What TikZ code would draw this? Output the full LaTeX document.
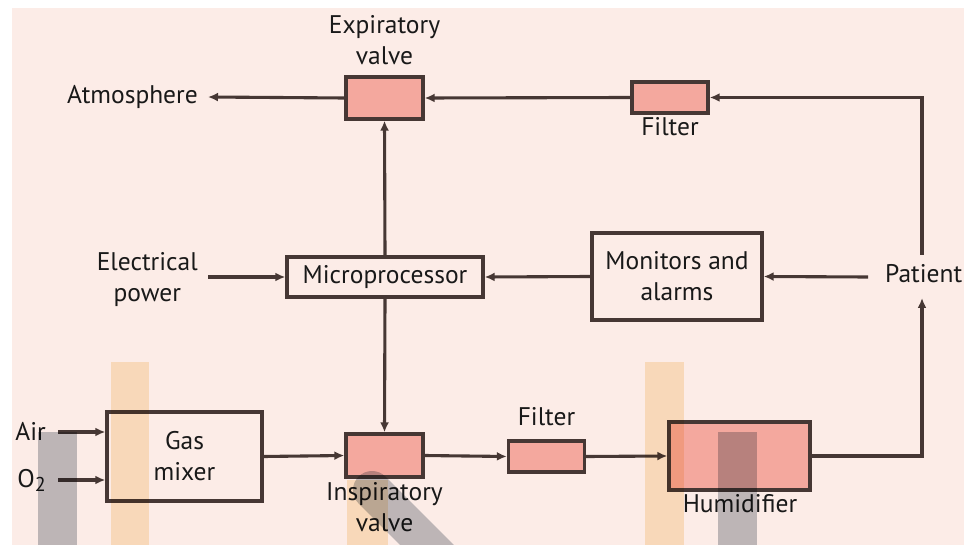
\documentclass[tikz,border=0pt]{standalone}
\usepackage{fontspec}
\setmainfont{PT Sans}
\usetikzlibrary{arrows.meta}
\definecolor{pagebg}{RGB}{252,236,231}
\definecolor{linecol}{RGB}{70,55,52}
\definecolor{boxfill}{RGB}{244,168,158}
\definecolor{bandgray}{RGB}{192,196,202}
\definecolor{bandorange}{RGB}{251,234,205}
\tikzset{
  flow/.style={draw=linecol, line width=3.1pt, -{Latex[length=10pt,width=9pt]}},
  valvebox/.style={draw=linecol, line width=3.4pt, fill=boxfill, minimum width=77pt, minimum height=42pt, inner sep=0pt},
  filterbox/.style={draw=linecol, line width=3.4pt, fill=boxfill, minimum width=76pt, minimum height=31pt, inner sep=0pt},
  whitebox/.style={draw=linecol, line width=3.4pt, inner sep=0pt, align=center},
  lbl/.style={font=\fontsize{25.5}{31}\selectfont, text=black!90, align=center, inner sep=0pt},
  band/.style={blend mode=multiply}
}
\begin{document}
\begin{tikzpicture}[x=1pt, y=-1pt]
\useasboundingbox (0,0) rectangle (969,545);
\fill[white] (0,0) rectangle (969,545);
\fill[pagebg] (12,8) rectangle (964,545);

% boxes
\node[valvebox] (ev) at (384.5,98) {};
\node[filterbox] (f1) at (670,97.5) {};
\node[whitebox, minimum width=196pt, minimum height=40pt] (mp) at (385,277) {};
\node[whitebox, minimum width=170pt, minimum height=87pt] (ma) at (677,276.5) {};
\node[whitebox, minimum width=155pt, minimum height=89pt] (gm) at (184.5,456.5) {};
\node[valvebox, minimum height=43pt] (iv) at (384.5,455.5) {};
\node[filterbox] (f2) at (546.5,456.5) {};
\node[valvebox, minimum width=141pt, minimum height=68pt] (hu) at (739.5,456) {};

% box texts and labels
\node[lbl] at (mp) {Microprocessor};
\node[lbl] at (ma) {Monitors and\\alarms};
\node[lbl] at (gm) {Gas\\mixer};
\node[lbl] at (384.5,40) {Expiratory\\valve};
\node[lbl, anchor=north] at (670,117) {Filter};
\node[lbl, anchor=south] at (546.5,426) {Filter};
\node[lbl, anchor=north] at (384.5,482) {Inspiratory\\valve};
\node[lbl, anchor=north] at (740,494) {Humidifier};
\node[lbl, anchor=east] (atm) at (198,97) {Atmosphere};
\node[lbl, anchor=east] (ep) at (198,280) {Electrical\\power};
\node[lbl, anchor=west] (pt) at (885,274) {Patient};
\node[lbl, anchor=east] (air) at (46,431) {Air};
\node[lbl, anchor=east] (oxy) at (46,480) {O\raisebox{-0.32ex}{\fontsize{20}{20}\selectfont 2}};

\coordinate (atmE) at (208,97);
\coordinate (epE) at (208,277);
\coordinate (airE) at (58,432);
\coordinate (oxyE) at (58,480);
\coordinate (ptL) at (868,277);
\coordinate (ptT) at (922,255);
\coordinate (ptB) at (922,298);
\coordinate (cnrT) at (922,97.5);
\coordinate (cnrB) at (922,456);

% connectors
\draw[flow] (ev.west) -- (atmE);
\draw[flow] (f1.west) -- (ev.east);
\draw[flow] (ptT) -- (cnrT) -- (f1.east);
\draw[flow] (mp.north) -- (ev.south);
\draw[flow] (mp.south) -- (iv.north);
\draw[flow] (epE) -- (mp.west);
\draw[flow] (ma.west) -- (mp.east);
\draw[flow] (ptL) -- (ma.east);
\draw[flow] (airE) -- (airE -| gm.west);
\draw[flow] (oxyE) -- (oxyE -| gm.west);
\draw[flow] (gm.east) -- (iv.west);
\draw[flow] (iv.east) -- (f2.west);
\draw[flow] (f2.east) -- (hu.west);
\draw[flow] (hu.east) -- (cnrB) -- (ptB);

% overlaid translucent bands
\begin{scope}[band]
  \clip (0,0) rectangle (969,545);
  \fill[bandorange] (111,362) rectangle (149,545);
  \fill[bandorange] (645,362) rectangle (684,545);
  \fill[bandorange] (347,480) rectangle (388,545);
  \fill[bandgray] (38,432) rectangle (77,545);
  \fill[bandgray] (718,432) rectangle (757,545);
  \draw[bandgray, line width=38pt, line cap=round] (372,490) -- (445,563);
\end{scope}
\end{tikzpicture}
\end{document}
